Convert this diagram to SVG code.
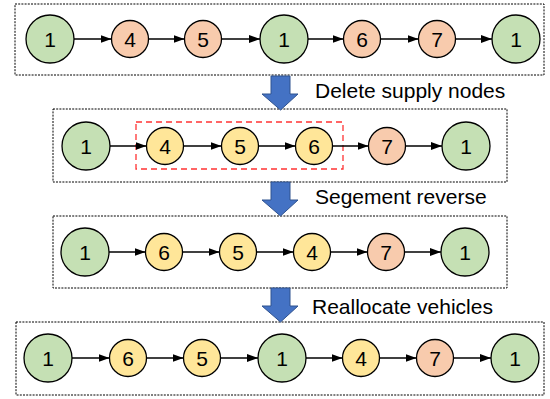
<svg xmlns="http://www.w3.org/2000/svg" width="550" height="399" viewBox="0 0 550 399">
<defs>
<style>
.box{fill:none;stroke:#000;stroke-width:1;stroke-dasharray:2 1.2}
.sel{fill:none;stroke:#FF3333;stroke-width:1.3;stroke-dasharray:6 4}
.g{fill:#C5E0B4;stroke:#000;stroke-width:1.3}
.o{fill:#F8CBAD;stroke:#000;stroke-width:1.3}
.y{fill:#FFE699;stroke:#000;stroke-width:1.3}
.t{font-family:"Liberation Sans",Arial,sans-serif;font-size:21px;fill:#000;text-anchor:middle;dominant-baseline:central}
.lab{font-family:"Liberation Sans",Arial,sans-serif;font-size:21px;fill:#000}
.e{stroke:#000;stroke-width:1.3;fill:none;marker-end:url(#ah)}
.big{fill:#4472C4;stroke:#2F528F;stroke-width:1}
</style>
<marker id="ah" markerUnits="userSpaceOnUse" markerWidth="12" markerHeight="9" refX="11" refY="4" orient="auto">
<path d="M0,0 L11,4 L0,8 z" fill="#000"/>
</marker>
</defs>

<g id="frames">
<rect class="box" x="15" y="4" width="529" height="71"/>
<rect class="box" x="53" y="109" width="454" height="73"/>
<rect class="box" x="53" y="216" width="454" height="72"/>
<rect class="box" x="16" y="322" width="528" height="73"/>
<rect class="sel" x="136" y="122" width="207" height="47"/>
</g>

<g id="step-arrows">
<path class="big" d="M271,76 H290 V94 H298 L280.5,110 L262,94 H271 Z"/>
<path class="big" d="M271,182 H290 V200 H298 L280.5,216 L262,200 H271 Z"/>
<path class="big" d="M271,288 H290 V306 H298 L280.5,322 L262,306 H271 Z"/>
</g>

<g id="labels">
<text class="lab" x="315" y="98">Delete supply nodes</text>
<text class="lab" x="315" y="204">Segement reverse</text>
<text class="lab" x="312" y="314">Reallocate vehicles</text>
</g>

<g id="connectors">
<line class="e" x1="74" y1="39" x2="111.5" y2="39"/>
<line class="e" x1="148.5" y1="39" x2="184.5" y2="39"/>
<line class="e" x1="221.5" y1="39" x2="260" y2="39"/>
<line class="e" x1="308" y1="39" x2="343.5" y2="39"/>
<line class="e" x1="380.5" y1="39" x2="418.5" y2="39"/>
<line class="e" x1="455.5" y1="39" x2="492" y2="39"/>

<line class="e" x1="110" y1="146" x2="146.5" y2="146"/>
<line class="e" x1="183.5" y1="146" x2="221.5" y2="146"/>
<line class="e" x1="258.5" y1="146" x2="295.5" y2="146"/>
<line class="e" x1="332.5" y1="146" x2="368.5" y2="146"/>
<line class="e" x1="405.5" y1="146" x2="442" y2="146"/>

<line class="e" x1="109" y1="252" x2="145.5" y2="252"/>
<line class="e" x1="182.5" y1="252" x2="219.5" y2="252"/>
<line class="e" x1="256.5" y1="252" x2="293.5" y2="252"/>
<line class="e" x1="330.5" y1="252" x2="367.5" y2="252"/>
<line class="e" x1="404.5" y1="252" x2="441" y2="252"/>

<line class="e" x1="72" y1="358" x2="109.5" y2="358"/>
<line class="e" x1="146.5" y1="358" x2="183.5" y2="358"/>
<line class="e" x1="220.5" y1="358" x2="258" y2="358"/>
<line class="e" x1="306" y1="358" x2="342.5" y2="358"/>
<line class="e" x1="379.5" y1="358" x2="416.5" y2="358"/>
<line class="e" x1="453.5" y1="358" x2="491" y2="358"/>
</g>

<g id="r1n1"><circle class="g" cx="50" cy="39" r="24"/><text class="t" x="50" y="39">1</text></g>
<g id="r1n4"><circle class="o" cx="130" cy="39" r="18.5"/><text class="t" x="130" y="39">4</text></g>
<g id="r1n5"><circle class="o" cx="203" cy="39" r="18.5"/><text class="t" x="203" y="39">5</text></g>
<g id="r1n1b"><circle class="g" cx="284" cy="39" r="24"/><text class="t" x="284" y="39">1</text></g>
<g id="r1n6"><circle class="o" cx="362" cy="39" r="18.5"/><text class="t" x="362" y="39">6</text></g>
<g id="r1n7"><circle class="o" cx="437" cy="39" r="18.5"/><text class="t" x="437" y="39">7</text></g>
<g id="r1n1c"><circle class="g" cx="516" cy="39" r="24"/><text class="t" x="516" y="39">1</text></g>

<g id="r2n1"><circle class="g" cx="86" cy="146" r="24"/><text class="t" x="86" y="146">1</text></g>
<g id="r2n4"><circle class="y" cx="165" cy="146" r="18.5"/><text class="t" x="165" y="146">4</text></g>
<g id="r2n5"><circle class="y" cx="240" cy="146" r="18.5"/><text class="t" x="240" y="146">5</text></g>
<g id="r2n6"><circle class="y" cx="314" cy="146" r="18.5"/><text class="t" x="314" y="146">6</text></g>
<g id="r2n7"><circle class="o" cx="387" cy="146" r="18.5"/><text class="t" x="387" y="146">7</text></g>
<g id="r2n1b"><circle class="g" cx="466" cy="146" r="24"/><text class="t" x="466" y="146">1</text></g>

<g id="r3n1"><circle class="g" cx="85" cy="252" r="24"/><text class="t" x="85" y="252">1</text></g>
<g id="r3n6"><circle class="y" cx="164" cy="252" r="18.5"/><text class="t" x="164" y="252">6</text></g>
<g id="r3n5"><circle class="y" cx="238" cy="252" r="18.5"/><text class="t" x="238" y="252">5</text></g>
<g id="r3n4"><circle class="y" cx="312" cy="252" r="18.5"/><text class="t" x="312" y="252">4</text></g>
<g id="r3n7"><circle class="o" cx="386" cy="252" r="18.5"/><text class="t" x="386" y="252">7</text></g>
<g id="r3n1b"><circle class="g" cx="465" cy="252" r="24"/><text class="t" x="465" y="252">1</text></g>

<g id="r4n1"><circle class="g" cx="48" cy="358" r="24"/><text class="t" x="48" y="358">1</text></g>
<g id="r4n6"><circle class="y" cx="128" cy="358" r="18.5"/><text class="t" x="128" y="358">6</text></g>
<g id="r4n5"><circle class="y" cx="202" cy="358" r="18.5"/><text class="t" x="202" y="358">5</text></g>
<g id="r4n1b"><circle class="g" cx="282" cy="358" r="24"/><text class="t" x="282" y="358">1</text></g>
<g id="r4n4"><circle class="y" cx="361" cy="358" r="18.5"/><text class="t" x="361" y="358">4</text></g>
<g id="r4n7"><circle class="o" cx="435" cy="358" r="18.5"/><text class="t" x="435" y="358">7</text></g>
<g id="r4n1c"><circle class="g" cx="515" cy="358" r="24"/><text class="t" x="515" y="358">1</text></g>
</svg>
